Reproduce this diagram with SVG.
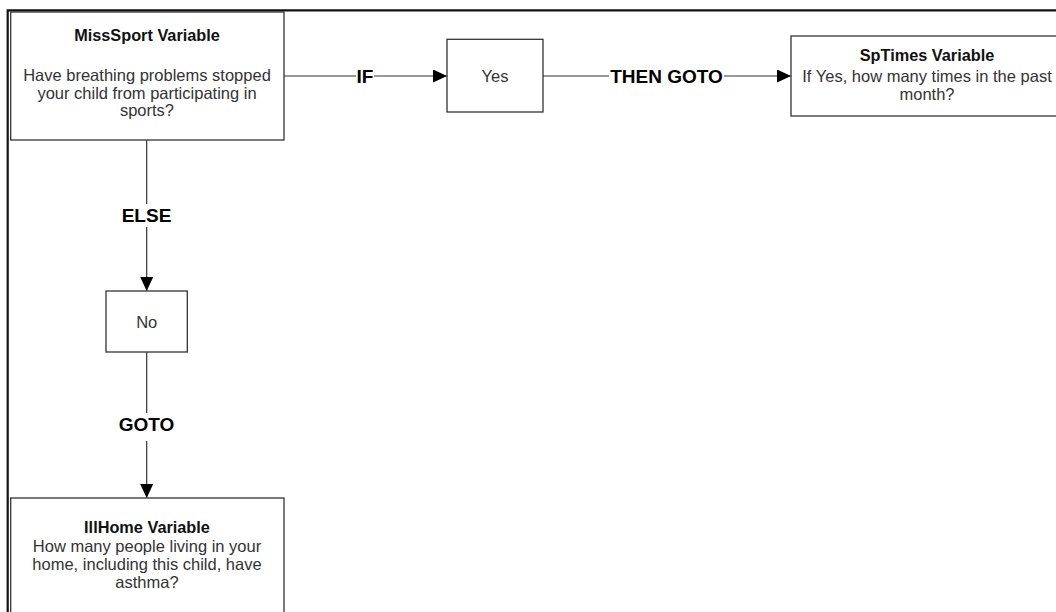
<svg xmlns="http://www.w3.org/2000/svg" width="1056" height="612" viewBox="0 0 1056 612">
<defs>
<marker id="arrow" markerUnits="userSpaceOnUse" markerWidth="14" markerHeight="13" refX="14" refY="6.5" orient="auto">
<path d="M0,0 L14,6.5 L0,13 Z" fill="#000"/>
</marker>
<style>
.box{fill:#fff;stroke:#333;stroke-width:1.3}
.title{font-family:"Liberation Sans",Arial,sans-serif;font-size:16.3px;font-weight:bold;fill:#111;text-anchor:middle}
.body{font-family:"Liberation Sans",Arial,sans-serif;font-size:16.5px;fill:#333;text-anchor:middle}
.lbl{font-family:"Liberation Sans",Arial,sans-serif;font-size:19px;font-weight:bold;fill:#000;text-anchor:middle}
.conn{fill:none;stroke:#333;stroke-width:1.2}
.frame{stroke:#111;stroke-width:2.2;fill:none}
</style>
</defs>
<rect width="1056" height="612" fill="#fff"/>
<path class="frame" d="M7.7,612 V10.3 H1056"/>

<g id="connectors">
<path class="conn" d="M284,76 H356 M374,76 H447" marker-end="url(#arrow)"/>
<text class="lbl" x="365" y="83">IF</text>
<path class="conn" d="M543,76 H609 M724,76 H791" marker-end="url(#arrow)"/>
<text class="lbl" x="666.5" y="83">THEN GOTO</text>
<path class="conn" d="M146.7,140 V204 M146.7,227 V291" marker-end="url(#arrow)"/>
<text class="lbl" x="146.5" y="221.7">ELSE</text>
<path class="conn" d="M146.7,352 V413 M146.7,441 V498" marker-end="url(#arrow)"/>
<text class="lbl" x="146.5" y="431">GOTO</text>
</g>

<g id="misssport">
<rect class="box" x="10.7" y="12" width="273.3" height="128"/>
<text class="title" x="147" y="41">MissSport Variable</text>
<text class="body" x="147" y="81">Have breathing problems stopped</text>
<text class="body" x="147" y="98.5">your child from participating in</text>
<text class="body" x="147" y="116">sports?</text>
</g>

<g id="yes">
<rect class="box" x="447" y="39.3" width="96" height="72.7"/>
<text class="body" x="495" y="81.5">Yes</text>
</g>

<g id="sptimes">
<rect class="box" x="791" y="36" width="275" height="80"/>
<text class="title" x="927" y="61">SpTimes Variable</text>
<text class="body" x="927" y="81.5">If Yes, how many times in the past</text>
<text class="body" x="927" y="100">month?</text>
</g>

<g id="no">
<rect class="box" x="106" y="291" width="81.3" height="61"/>
<text class="body" x="146.7" y="327.5">No</text>
</g>

<g id="illhome">
<rect class="box" x="10.7" y="498" width="273.3" height="130"/>
<text class="title" x="147" y="532.7">IllHome Variable</text>
<text class="body" x="147" y="551.7">How many people living in your</text>
<text class="body" x="147" y="570">home, including this child, have</text>
<text class="body" x="147" y="588.3">asthma?</text>
</g>
</svg>
